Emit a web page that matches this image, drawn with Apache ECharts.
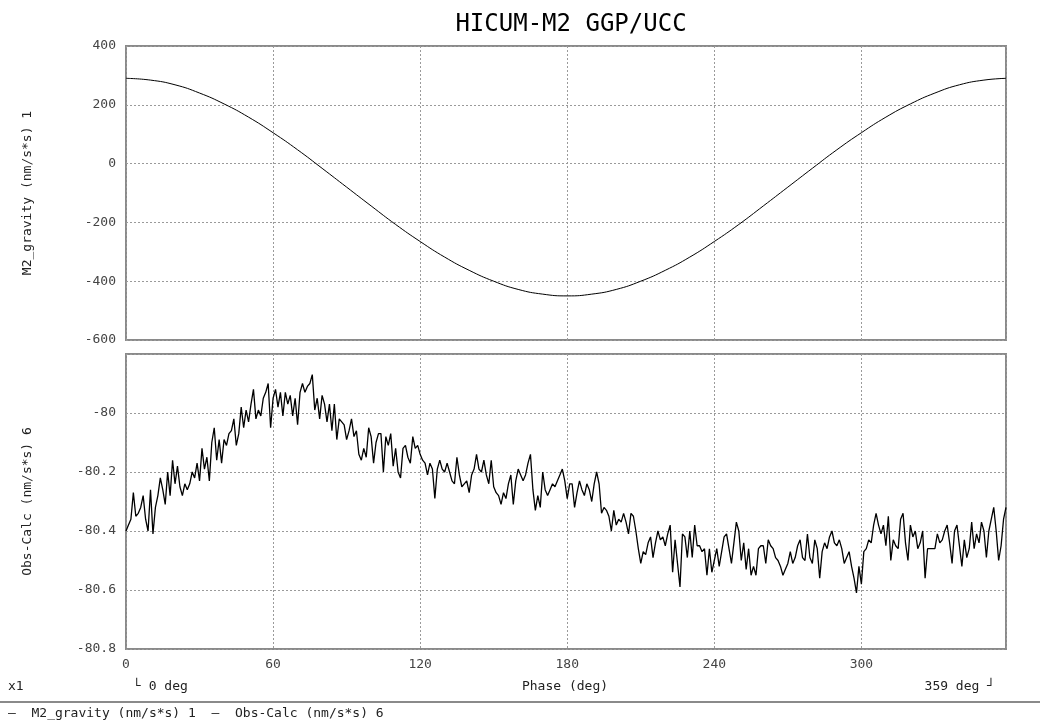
<!DOCTYPE html>
<html><head><meta charset="utf-8">
<script src="https://cdn.jsdelivr.net/npm/echarts@6/dist/echarts.min.js"></script>
<style>html,body{margin:0;padding:0;background:#fff}#c{width:1040px;height:724px}</style>
</head><body><div id="c"></div>
<script>
const titleText = "HICUM-M2 GGP/UCC";
const xTicks = [0, 60, 120, 180, 240, 300];
const m2Phase = [0,10,20,30,40,50,60,70,80,90,100,110,120,130,140,150,160,170,180,190,200,210,220,230,240,250,260,270,280,290,300,310,320,330,340,350,359];
const m2Gravity = [290,284,268,240,203,158,105,47,-16,-80,-144,-207,-265,-318,-363,-400,-428,-444,-450,-444,-428,-400,-363,-318,-265,-207,-144,-80,-16,47,105,158,203,240,268,284,290];
const obsCalc = [
-80.40,-80.38,-80.36,-80.27,-80.35,-80.34,-80.32,-80.28,-80.36,-80.40,
-80.26,-80.41,-80.32,-80.28,-80.22,-80.26,-80.31,-80.20,-80.28,-80.16,
-80.24,-80.18,-80.25,-80.28,-80.24,-80.26,-80.24,-80.20,-80.22,-80.17,
-80.23,-80.12,-80.19,-80.15,-80.23,-80.10,-80.05,-80.16,-80.09,-80.17,
-80.09,-80.11,-80.07,-80.06,-80.02,-80.11,-80.07,-79.98,-80.05,-79.99,
-80.03,-79.97,-79.92,-80.02,-79.99,-80.01,-79.95,-79.93,-79.90,-80.05,
-79.95,-79.92,-79.98,-79.93,-80.01,-79.93,-79.97,-79.94,-80.01,-79.95,
-80.04,-79.93,-79.90,-79.93,-79.91,-79.90,-79.87,-79.99,-79.95,-80.02,
-79.94,-79.97,-80.03,-79.97,-80.06,-79.97,-80.09,-80.02,-80.03,-80.04,
-80.09,-80.06,-80.02,-80.08,-80.06,-80.14,-80.16,-80.12,-80.15,-80.05,
-80.08,-80.17,-80.10,-80.07,-80.07,-80.20,-80.08,-80.11,-80.07,-80.18,
-80.12,-80.20,-80.22,-80.12,-80.11,-80.15,-80.17,-80.08,-80.12,-80.11,
-80.14,-80.16,-80.17,-80.21,-80.17,-80.19,-80.29,-80.19,-80.16,-80.19,
-80.20,-80.17,-80.20,-80.23,-80.24,-80.15,-80.21,-80.25,-80.24,-80.23,
-80.27,-80.21,-80.19,-80.14,-80.19,-80.20,-80.16,-80.21,-80.24,-80.16,
-80.25,-80.27,-80.28,-80.31,-80.27,-80.29,-80.24,-80.21,-80.31,-80.23,
-80.19,-80.21,-80.23,-80.21,-80.17,-80.14,-80.26,-80.33,-80.28,-80.32,
-80.20,-80.26,-80.28,-80.26,-80.24,-80.25,-80.23,-80.21,-80.19,-80.23,
-80.29,-80.24,-80.24,-80.32,-80.27,-80.23,-80.26,-80.28,-80.24,-80.26,
-80.30,-80.24,-80.20,-80.24,-80.34,-80.32,-80.33,-80.35,-80.40,-80.33,
-80.38,-80.36,-80.37,-80.34,-80.37,-80.41,-80.34,-80.35,-80.40,-80.46,
-80.51,-80.47,-80.48,-80.44,-80.42,-80.49,-80.44,-80.40,-80.43,-80.42,
-80.45,-80.41,-80.38,-80.54,-80.43,-80.51,-80.59,-80.41,-80.42,-80.49,
-80.40,-80.49,-80.38,-80.45,-80.45,-80.47,-80.46,-80.55,-80.46,-80.54,
-80.50,-80.46,-80.52,-80.47,-80.42,-80.41,-80.46,-80.51,-80.44,-80.37,
-80.40,-80.50,-80.44,-80.53,-80.46,-80.55,-80.52,-80.55,-80.46,-80.45,
-80.45,-80.51,-80.43,-80.45,-80.46,-80.49,-80.50,-80.52,-80.55,-80.53,
-80.51,-80.47,-80.51,-80.49,-80.45,-80.43,-80.49,-80.50,-80.41,-80.49,
-80.51,-80.43,-80.46,-80.56,-80.47,-80.44,-80.46,-80.42,-80.40,-80.44,
-80.45,-80.43,-80.46,-80.51,-80.49,-80.47,-80.52,-80.56,-80.61,-80.52,
-80.58,-80.47,-80.46,-80.43,-80.44,-80.38,-80.34,-80.38,-80.41,-80.38,
-80.45,-80.35,-80.50,-80.43,-80.45,-80.46,-80.36,-80.34,-80.44,-80.50,
-80.38,-80.42,-80.40,-80.46,-80.44,-80.40,-80.56,-80.46,-80.46,-80.46,
-80.46,-80.41,-80.44,-80.43,-80.40,-80.38,-80.44,-80.51,-80.40,-80.38,
-80.45,-80.52,-80.43,-80.49,-80.46,-80.37,-80.46,-80.41,-80.44,-80.37,
-80.40,-80.49,-80.40,-80.36,-80.32,-80.40,-80.50,-80.45,-80.36,-80.32
];
const seriesNames = ["M2_gravity (nm/s*s) 1", "Obs-Calc (nm/s*s) 6"];

const FONT = "DejaVu Sans Mono";
const chart = echarts.init(document.getElementById('c'), null, {renderer: 'canvas'});
const gridStyle = {show: true, borderColor: '#8a8a8a', borderWidth: 2, backgroundColor: '#fff'};
const split = {show: true, lineStyle: {color: '#9a9a9a', type: [2, 2], width: 1}};
const lbl = {color: '#444', fontFamily: FONT, fontSize: 13};
const nameStyle = {color: '#222', fontFamily: FONT, fontSize: 13};

chart.setOption({
  animation: false,
  backgroundColor: '#fff',
  title: {text: titleText, left: 566, textAlign: 'center', top: 8,
    textStyle: {fontFamily: 'DejaVu Sans Mono', fontSize: 24, fontWeight: 'normal', color: '#000'}},
  grid: [
    Object.assign({left: 126, top: 46, width: 880, height: 294}, gridStyle),
    Object.assign({left: 126, top: 354, width: 880, height: 295}, gridStyle)
  ],
  xAxis: [
    {type: 'value', gridIndex: 0, min: 0, max: 359, interval: 60,
     axisLine: {show: false}, axisTick: {show: false}, axisLabel: {show: false}, splitLine: split},
    {type: 'value', gridIndex: 1, min: 0, max: 359, interval: 60,
     axisLine: {show: false}, axisTick: {show: false},
     axisLabel: Object.assign({margin: 9, showMaxLabel: false}, lbl), splitLine: split}
  ],
  yAxis: [
    {type: 'value', gridIndex: 0, min: -600, max: 400, interval: 200,
     name: seriesNames[0], nameLocation: 'middle', nameGap: 92, nameRotate: 90,
     nameTextStyle: nameStyle,
     axisLine: {show: false}, axisTick: {show: false},
     axisLabel: Object.assign({margin: 10}, lbl), splitLine: split},
    {type: 'value', gridIndex: 1, min: -80.8, max: -79.8, interval: 0.2,
     name: seriesNames[1], nameLocation: 'middle', nameGap: 92, nameRotate: 90,
     nameTextStyle: nameStyle,
     axisLine: {show: false}, axisTick: {show: false},
     axisLabel: Object.assign({margin: 10, showMaxLabel: false}, lbl), splitLine: split}
  ],
  series: [
    {name: seriesNames[0], type: 'line', xAxisIndex: 0, yAxisIndex: 0, smooth: true,
     showSymbol: false, lineStyle: {color: '#000', width: 1},
     data: m2Phase.map((p, i) => [p, m2Gravity[i]])},
    {name: seriesNames[1], type: 'line', xAxisIndex: 1, yAxisIndex: 1,
     showSymbol: false, lineStyle: {color: '#000', width: 1.3},
     data: obsCalc.map((v, i) => [i, v])}
  ],
  graphic: [
    {type: 'text', left: 8, top: 680, style: {text: 'x1', fill: '#222', font: '13px ' + FONT}},
    {type: 'text', left: 133, top: 680, style: {text: '└ 0 deg', fill: '#222', font: '13px ' + FONT}},
    {type: 'text', x: 565, y: 680, style: {text: 'Phase (deg)', fill: '#222', font: '13px ' + FONT, align: 'center'}},
    {type: 'text', right: 45, top: 680, style: {text: '359 deg ┘', fill: '#222', font: '13px ' + FONT}},
    {type: 'line', shape: {x1: 0, y1: 702, x2: 1040, y2: 702}, style: {stroke: '#8a8a8a', lineWidth: 2}},
    {type: 'text', left: 8, top: 707,
     style: {text: '—  ' + seriesNames[0] + '  —  ' + seriesNames[1], fill: '#222', font: '13px ' + FONT}}
  ]
});
</script></body></html>
